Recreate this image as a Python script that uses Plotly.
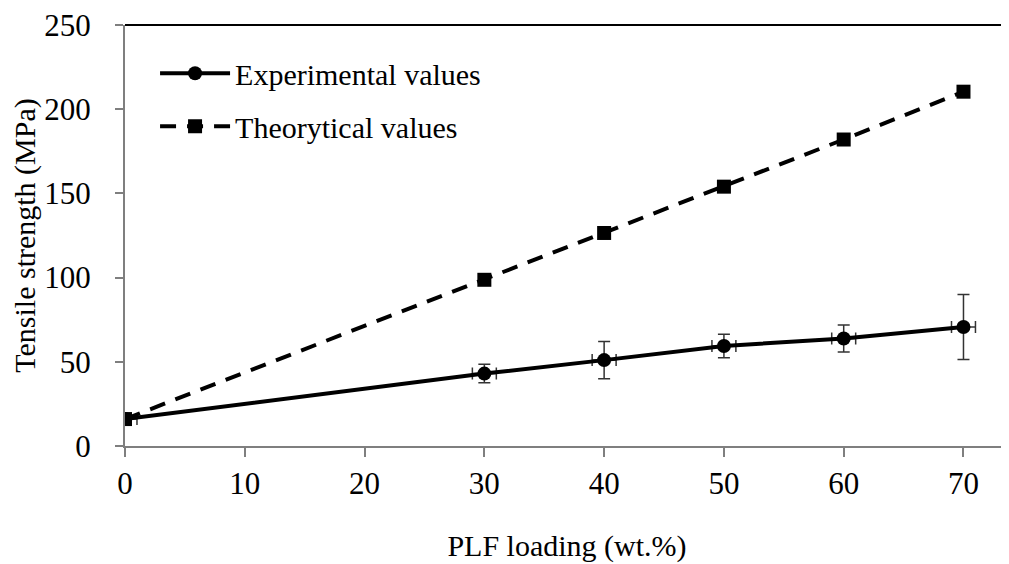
import plotly.graph_objects as go

loading = [0, 30, 40, 50, 60, 70]
exp_vals = [16, 43, 51, 59.4, 63.8, 70.7]
exp_err_y = [0, 5.5, 11, 7, 8, 19.3]
exp_err_x = [1, 1, 1, 1, 1, 1]
theo_vals = [16, 98.7, 126.5, 154, 182, 210.4]

x_ticks = [0, 10, 20, 30, 40, 50, 60, 70]
y_ticks = [0, 50, 100, 150, 200, 250]

font_family = "Liberation Serif, Times New Roman, serif"

fig = go.Figure()
fig.add_trace(go.Scatter(
    x=loading, y=exp_vals, name="Experimental values", mode="lines+markers",
    legendgroup="exp",
    line=dict(color="black", width=4),
    marker=dict(symbol="circle", size=14, color="black"),
    error_y=dict(type="data", array=exp_err_y, color="#333333", thickness=1.5, width=6),
    error_x=dict(type="data", array=exp_err_x, color="#333333", thickness=1.5, width=6),
))
fig.add_trace(go.Scatter(
    x=loading, y=theo_vals, name="Theorytical values", mode="lines+markers",
    legendgroup="theo",
    line=dict(color="black", width=4, dash="16px,11px"),
    marker=dict(symbol="square", size=14, color="black"),
))

fig.update_layout(
    width=1001, height=556,
    margin=dict(l=117, r=0, t=15, b=118),
    paper_bgcolor="white", plot_bgcolor="white",
    font=dict(family=font_family, size=30, color="black"),
    showlegend=True,
    legend=dict(x=0.034, y=0.947, xanchor="left", yanchor="top",
                bgcolor="rgba(0,0,0,0)", font=dict(size=30),
                itemwidth=70, traceorder="grouped", tracegroupgap=11),
    xaxis=dict(
        range=[0, 73.8], tickvals=x_ticks, showgrid=False, zeroline=False,
        showline=True, linecolor="#7f7f7f", linewidth=2,
        ticks="outside", ticklen=9, tickcolor="#7f7f7f", tickwidth=1.5,
        ticklabelstandoff=0, ticklabeloverflow="allow",
        title=dict(text="PLF loading (wt.%)", standoff=35, font=dict(size=30)),
        tickfont=dict(size=31),
    ),
    yaxis=dict(
        range=[0, 250], tickvals=y_ticks, showgrid=False, zeroline=False,
        showline=True, linecolor="#7f7f7f", linewidth=2,
        ticks="outside", ticklen=8, tickcolor="#7f7f7f", tickwidth=1.5,
        ticklabelstandoff=18, ticklabeloverflow="allow",
        title=dict(text="Tensile strength (MPa)", standoff=8, font=dict(size=30)),
        tickfont=dict(size=31),
    ),
)
fig.add_shape(type="line", xref="paper", yref="paper", x0=0, x1=1, y0=1, y1=1,
              line=dict(color="black", width=2))

fig.write_html("out.html")
